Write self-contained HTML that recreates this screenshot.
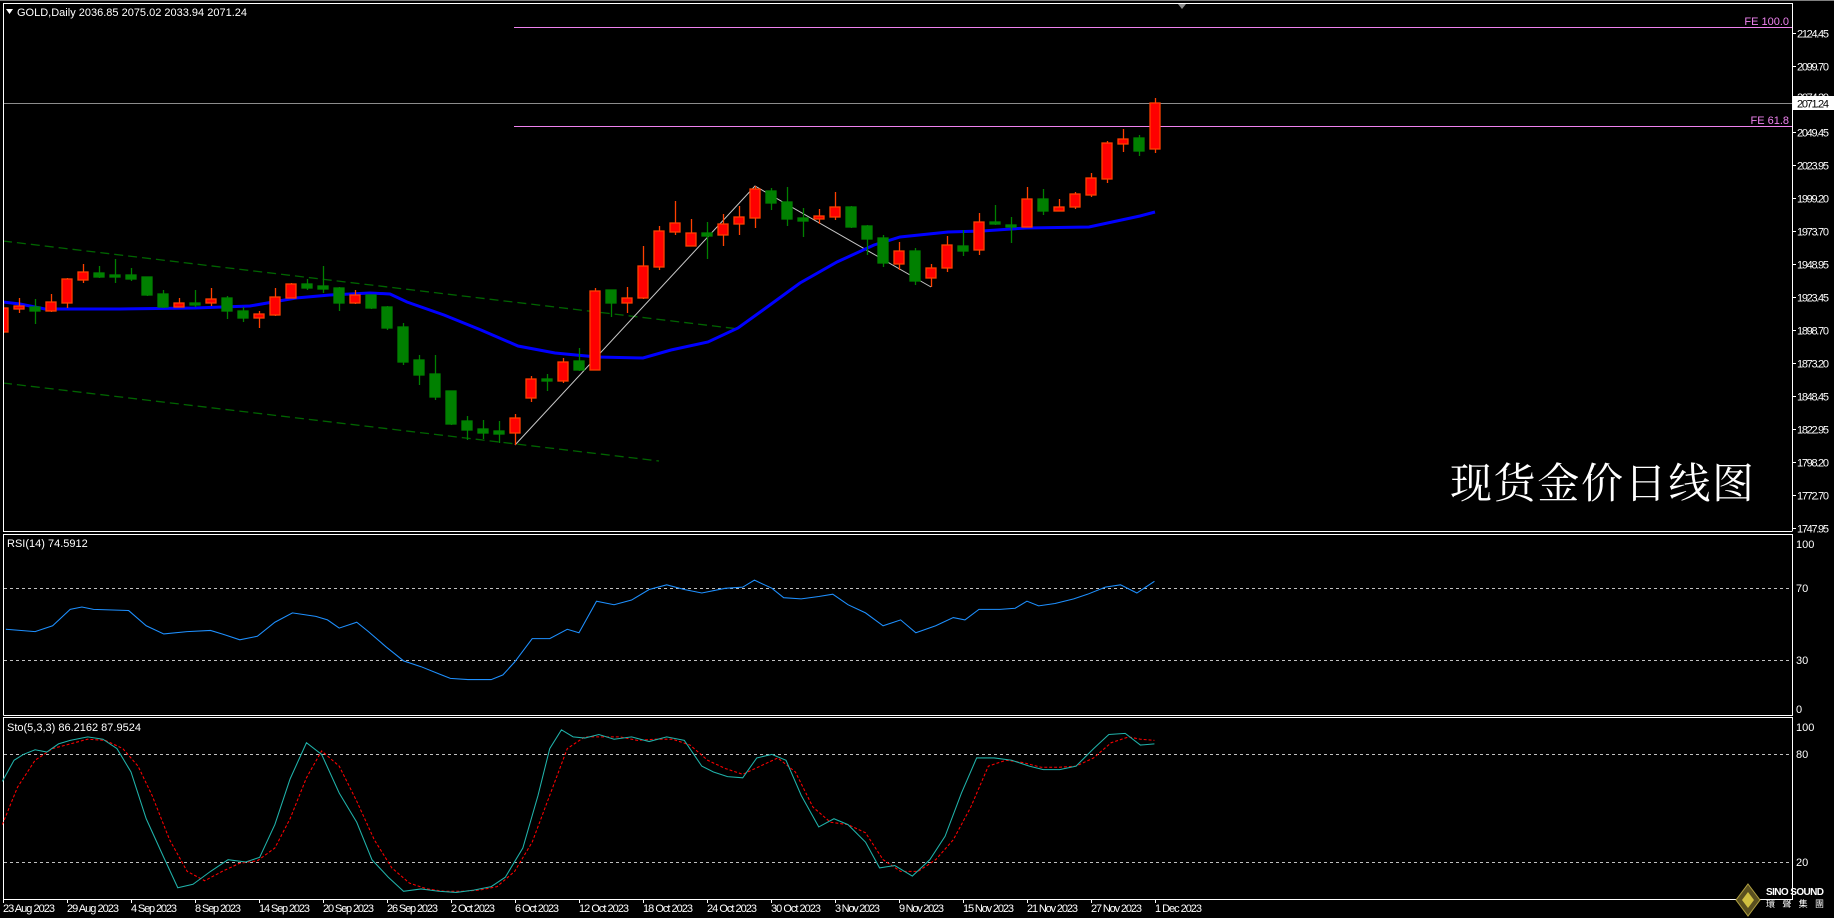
<!DOCTYPE html>
<html><head><meta charset="utf-8"><style>
html,body{margin:0;padding:0;background:#000;}
svg{display:block;}
text{font-family:"Liberation Sans",sans-serif;}
</style></head><body>
<svg width="1834" height="918" viewBox="0 0 1834 918" xmlns="http://www.w3.org/2000/svg">
<rect width="1834" height="918" fill="#000"/>
<line x1="0" y1="0.5" x2="1834" y2="0.5" stroke="#808080"/>
<defs><clipPath id="mc"><rect x="4" y="4" width="1788" height="527"/></clipPath></defs>
<g fill="none" stroke="#fff" stroke-width="1">
<path d="M3.5 531.5 V3.5 H1792.5 V531.5"/>
<line x1="3" y1="531.5" x2="1792" y2="531.5"/>
<path d="M3.5 715.5 V534.5 H1792.5 V715.5 H3.5"/>
<path d="M3.5 899.5 V717.5 H1792.5 V899.5 H3.5"/>
</g>
<g clip-path="url(#mc)">
<g stroke="#006400" stroke-width="1.3" stroke-dasharray="9 5">
<line x1="3" y1="241" x2="739" y2="329"/>
<line x1="3" y1="383" x2="659" y2="461"/>
</g>
<line x1="514" y1="27.5" x2="1792" y2="27.5" stroke="#ee82ee"/>
<line x1="514" y1="126.5" x2="1792" y2="126.5" stroke="#ee82ee"/>
<line x1="3" y1="103.5" x2="1792" y2="103.5" stroke="#8c8c8c"/>
<polyline points="515,445 755,186 931,287" fill="none" stroke="#c8c8c8" stroke-width="1"/>
<polyline points="3,302 20,304 45,309 120,309 195,308 250,306 296,298 330,295 370,293 390,294 407,302 444,315 481,330 518,346 555,353 597,357 643,358 671,350 708,342 738,328 763,310 800,283 837,262 874,245 900,237 948,232 982,231 1026,228 1089,227 1140,216 1155,212" fill="none" stroke="#0000ff" stroke-width="3"/>
<g stroke="#008000" fill="#008000" stroke-width="1.3">
<line x1="35.5" y1="299" x2="35.5" y2="324"/><rect x="30" y="307" width="10" height="4"/>
<line x1="99.5" y1="266" x2="99.5" y2="278"/><rect x="94" y="273" width="10" height="4"/>
<line x1="115.5" y1="259" x2="115.5" y2="283"/><rect x="110" y="275" width="10" height="2"/>
<line x1="131.5" y1="268" x2="131.5" y2="281"/><rect x="126" y="275" width="10" height="4"/>
<line x1="147.5" y1="277" x2="147.5" y2="296"/><rect x="142" y="277" width="10" height="18"/>
<line x1="163.5" y1="290" x2="163.5" y2="308"/><rect x="158" y="294" width="10" height="13"/>
<line x1="195.5" y1="290" x2="195.5" y2="307"/><rect x="190" y="303" width="10" height="2"/>
<line x1="227.5" y1="296" x2="227.5" y2="319"/><rect x="222" y="298" width="10" height="13"/>
<line x1="243.5" y1="307" x2="243.5" y2="322"/><rect x="238" y="311" width="10" height="7"/>
<line x1="307.5" y1="279" x2="307.5" y2="290"/><rect x="302" y="284" width="10" height="4"/>
<line x1="323.5" y1="266" x2="323.5" y2="293"/><rect x="318" y="286" width="10" height="3"/>
<line x1="339.5" y1="287" x2="339.5" y2="311"/><rect x="334" y="288" width="10" height="15"/>
<line x1="371.5" y1="295" x2="371.5" y2="309"/><rect x="366" y="295" width="10" height="13"/>
<line x1="387.5" y1="306" x2="387.5" y2="330"/><rect x="382" y="307" width="10" height="21"/>
<line x1="403.5" y1="323" x2="403.5" y2="365"/><rect x="398" y="327" width="10" height="35"/>
<line x1="419.5" y1="355" x2="419.5" y2="385"/><rect x="414" y="360" width="10" height="15"/>
<line x1="435.5" y1="355" x2="435.5" y2="400"/><rect x="430" y="374" width="10" height="23"/>
<line x1="451.5" y1="391" x2="451.5" y2="425"/><rect x="446" y="391" width="10" height="33"/>
<line x1="467.5" y1="416" x2="467.5" y2="440"/><rect x="462" y="421" width="10" height="9"/>
<line x1="483.5" y1="420" x2="483.5" y2="439"/><rect x="478" y="429" width="10" height="4"/>
<line x1="499.5" y1="421" x2="499.5" y2="443"/><rect x="494" y="431" width="10" height="3"/>
<line x1="547.5" y1="374" x2="547.5" y2="391"/><rect x="542" y="379" width="10" height="2"/>
<line x1="579.5" y1="348" x2="579.5" y2="371"/><rect x="574" y="361" width="10" height="9"/>
<line x1="611.5" y1="290" x2="611.5" y2="317"/><rect x="606" y="290" width="10" height="13"/>
<line x1="707.5" y1="222" x2="707.5" y2="259"/><rect x="702" y="233" width="10" height="3"/>
<line x1="771.5" y1="188" x2="771.5" y2="210"/><rect x="766" y="191" width="10" height="12"/>
<line x1="787.5" y1="187" x2="787.5" y2="226"/><rect x="782" y="202" width="10" height="17"/>
<line x1="803.5" y1="208" x2="803.5" y2="237"/><rect x="798" y="218" width="10" height="3"/>
<line x1="851.5" y1="206" x2="851.5" y2="228"/><rect x="846" y="207" width="10" height="20"/>
<line x1="867.5" y1="225" x2="867.5" y2="255"/><rect x="862" y="226" width="10" height="13"/>
<line x1="883.5" y1="235" x2="883.5" y2="267"/><rect x="878" y="238" width="10" height="25"/>
<line x1="915.5" y1="248" x2="915.5" y2="285"/><rect x="910" y="251" width="10" height="30"/>
<line x1="963.5" y1="230" x2="963.5" y2="256"/><rect x="958" y="246" width="10" height="5"/>
<line x1="995.5" y1="205" x2="995.5" y2="225"/><rect x="990" y="222" width="10" height="2"/>
<line x1="1011.5" y1="217" x2="1011.5" y2="243"/><rect x="1006" y="225" width="10" height="2"/>
<line x1="1043.5" y1="189" x2="1043.5" y2="215"/><rect x="1038" y="199" width="10" height="12"/>
<line x1="1139.5" y1="135" x2="1139.5" y2="156"/><rect x="1134" y="138" width="10" height="13"/>
</g>
<g stroke="#ff4000" fill="#ff0000" stroke-width="1.3">
<line x1="3.5" y1="302" x2="3.5" y2="333"/><rect x="-2" y="308" width="10" height="24"/>
<line x1="19.5" y1="298" x2="19.5" y2="313"/><rect x="14" y="306" width="10" height="3"/>
<line x1="51.5" y1="294" x2="51.5" y2="312"/><rect x="46" y="302" width="10" height="9"/>
<line x1="67.5" y1="278" x2="67.5" y2="308"/><rect x="62" y="279" width="10" height="24"/>
<line x1="83.5" y1="264" x2="83.5" y2="283"/><rect x="78" y="272" width="10" height="8"/>
<line x1="179.5" y1="298" x2="179.5" y2="307"/><rect x="174" y="303" width="10" height="4"/>
<line x1="211.5" y1="288" x2="211.5" y2="306"/><rect x="206" y="299" width="10" height="4"/>
<line x1="259.5" y1="311" x2="259.5" y2="328"/><rect x="254" y="314" width="10" height="4"/>
<line x1="275.5" y1="288" x2="275.5" y2="316"/><rect x="270" y="297" width="10" height="18"/>
<line x1="291.5" y1="283" x2="291.5" y2="298"/><rect x="286" y="284" width="10" height="14"/>
<line x1="355.5" y1="290" x2="355.5" y2="304"/><rect x="350" y="295" width="10" height="8"/>
<line x1="515.5" y1="414" x2="515.5" y2="445"/><rect x="510" y="418" width="10" height="15"/>
<line x1="531.5" y1="376" x2="531.5" y2="402"/><rect x="526" y="379" width="10" height="19"/>
<line x1="563.5" y1="358" x2="563.5" y2="383"/><rect x="558" y="362" width="10" height="19"/>
<line x1="595.5" y1="288" x2="595.5" y2="370"/><rect x="590" y="291" width="10" height="79"/>
<line x1="627.5" y1="287" x2="627.5" y2="313"/><rect x="622" y="298" width="10" height="5"/>
<line x1="643.5" y1="246" x2="643.5" y2="299"/><rect x="638" y="266" width="10" height="32"/>
<line x1="659.5" y1="226" x2="659.5" y2="270"/><rect x="654" y="231" width="10" height="36"/>
<line x1="675.5" y1="201" x2="675.5" y2="235"/><rect x="670" y="223" width="10" height="9"/>
<line x1="691.5" y1="219" x2="691.5" y2="246"/><rect x="686" y="233" width="10" height="13"/>
<line x1="723.5" y1="214" x2="723.5" y2="246"/><rect x="718" y="224" width="10" height="11"/>
<line x1="739.5" y1="206" x2="739.5" y2="235"/><rect x="734" y="217" width="10" height="7"/>
<line x1="755.5" y1="186" x2="755.5" y2="228"/><rect x="750" y="189" width="10" height="29"/>
<line x1="819.5" y1="209" x2="819.5" y2="224"/><rect x="814" y="216" width="10" height="3"/>
<line x1="835.5" y1="192" x2="835.5" y2="220"/><rect x="830" y="207" width="10" height="10"/>
<line x1="899.5" y1="242" x2="899.5" y2="270"/><rect x="894" y="251" width="10" height="13"/>
<line x1="931.5" y1="264" x2="931.5" y2="287"/><rect x="926" y="268" width="10" height="10"/>
<line x1="947.5" y1="236" x2="947.5" y2="272"/><rect x="942" y="245" width="10" height="23"/>
<line x1="979.5" y1="213" x2="979.5" y2="255"/><rect x="974" y="222" width="10" height="28"/>
<line x1="1027.5" y1="187" x2="1027.5" y2="227"/><rect x="1022" y="199" width="10" height="28"/>
<line x1="1059.5" y1="199" x2="1059.5" y2="211"/><rect x="1054" y="207" width="10" height="4"/>
<line x1="1075.5" y1="192" x2="1075.5" y2="209"/><rect x="1070" y="194" width="10" height="13"/>
<line x1="1091.5" y1="173" x2="1091.5" y2="197"/><rect x="1086" y="178" width="10" height="17"/>
<line x1="1107.5" y1="141" x2="1107.5" y2="183"/><rect x="1102" y="143" width="10" height="36"/>
<line x1="1123.5" y1="129" x2="1123.5" y2="152"/><rect x="1118" y="139" width="10" height="5"/>
<line x1="1155.5" y1="98" x2="1155.5" y2="153"/><rect x="1150" y="103" width="10" height="46"/>
</g>
</g>
<polygon points="1178,4 1186,4 1182,9" fill="#8c8c8c"/>
<polygon points="6,9 13,9 9.5,14" fill="#fff"/>
<text x="17" y="16" font-size="11" fill="#fff" textLength="230" lengthAdjust="spacingAndGlyphs">GOLD,Daily  2036.85 2075.02 2033.94 2071.24</text>
<text x="1789" y="25" font-size="11" fill="#ee82ee" text-anchor="end">FE 100.0</text>
<text x="1789" y="124" font-size="11" fill="#ee82ee" text-anchor="end">FE 61.8</text>
<text x="1450" y="498" fill="#fff" textLength="304" style="font-family:'Noto Serif CJK SC','Liberation Serif',serif;font-size:42px;">现货金价日线图</text>
<g font-size="11" fill="#fff">
<g stroke="#fff"><line x1="1792" y1="33.5" x2="1796" y2="33.5"/><line x1="1792" y1="66.5" x2="1796" y2="66.5"/><line x1="1792" y1="132.5" x2="1796" y2="132.5"/><line x1="1792" y1="165.5" x2="1796" y2="165.5"/><line x1="1792" y1="198.5" x2="1796" y2="198.5"/><line x1="1792" y1="231.5" x2="1796" y2="231.5"/><line x1="1792" y1="264.5" x2="1796" y2="264.5"/><line x1="1792" y1="297.5" x2="1796" y2="297.5"/><line x1="1792" y1="330.5" x2="1796" y2="330.5"/><line x1="1792" y1="363.5" x2="1796" y2="363.5"/><line x1="1792" y1="396.5" x2="1796" y2="396.5"/><line x1="1792" y1="429.5" x2="1796" y2="429.5"/><line x1="1792" y1="462.5" x2="1796" y2="462.5"/><line x1="1792" y1="495.5" x2="1796" y2="495.5"/><line x1="1792" y1="528.5" x2="1796" y2="528.5"/></g>
<text x="1797" y="37.5" textLength="32">2124.45</text>
<text x="1797" y="70.5" textLength="32">2099.70</text>
<text x="1797" y="101" textLength="32">2074.20</text>
<text x="1797" y="136.5" textLength="32">2049.45</text>
<text x="1797" y="169.5" textLength="32">2023.95</text>
<text x="1797" y="202.5" textLength="32">1999.20</text>
<text x="1797" y="235.5" textLength="32">1973.70</text>
<text x="1797" y="268.5" textLength="32">1948.95</text>
<text x="1797" y="301.5" textLength="32">1923.45</text>
<text x="1797" y="334.5" textLength="32">1898.70</text>
<text x="1797" y="367.5" textLength="32">1873.20</text>
<text x="1797" y="400.5" textLength="32">1848.45</text>
<text x="1797" y="433.5" textLength="32">1822.95</text>
<text x="1797" y="466.5" textLength="32">1798.20</text>
<text x="1797" y="499.5" textLength="32">1772.70</text>
<text x="1797" y="532.5" textLength="32">1747.95</text>
<rect x="1793" y="96" width="41" height="14" fill="#fff"/>
<text x="1797" y="107.5" textLength="32" fill="#000">2071.24</text>
<text x="1796" y="548">100</text><text x="1796" y="592">70</text><text x="1796" y="664">30</text><text x="1796" y="713">0</text>
<text x="1796" y="731">100</text><text x="1796" y="758">80</text><text x="1796" y="866">20</text>
</g>
<g stroke="#c0c0c0" stroke-dasharray="3 3">
<line x1="4" y1="588.5" x2="1792" y2="588.5"/><line x1="4" y1="660.5" x2="1792" y2="660.5"/>
<line x1="4" y1="754.5" x2="1792" y2="754.5"/><line x1="4" y1="862.5" x2="1792" y2="862.5"/>
</g>
<text x="7" y="547" font-size="11" fill="#fff">RSI(14) 74.5912</text>
<text x="7" y="731" font-size="11" fill="#fff">Sto(5,3,3) 86.2162 87.9524</text>
<g transform="scale(1.16964)" fill="none">
<polyline stroke="#1e90ff" stroke-width="0.9" points="5,538 30,540 45,535 60,521 70,519 80,521 110,522 125,535 140,542 160,540 180,539 190,542 205,547 220,544 235,532 250,524 270,527 280,530 290,537 305,532 315,540 330,553 345,565 360,570 375,576 385,580 400,581 420,581 430,577 440,566 455,546 470,546 485,538 495,541 510,514 525,517 540,513 555,504 570,500 585,504 600,507 620,503 635,502 645,496 660,503 670,511 685,512 700,510 712,508 725,517 740,524 755,535 770,530 783,541 800,535 815,528 825,530 837,521 855,521 868,520 878,514 888,518 902,516 918,512 930,508 945,502 958,500 972,507 987,497"/>
<polyline stroke="#ff0000" stroke-width="0.9" stroke-dasharray="2.5 1.7" points="2,705 15,673 30,650 45,640 60,636 75,632 90,633 105,640 118,655 130,680 145,718 160,745 175,753 190,745 205,738 220,736 235,725 248,700 262,665 275,642 290,655 305,685 320,718 335,742 350,755 365,760 380,762 395,762 410,761 425,758 440,745 455,720 470,680 485,640 500,630 515,630 530,630 545,633 560,632 575,632 590,637 605,650 620,657 635,662 650,655 665,648 680,660 695,690 710,703 725,705 740,712 755,735 770,745 785,745 800,735 815,718 830,690 845,655 860,650 875,652 890,656 905,656 920,655 935,648 950,635 965,630 975,632 987,633"/>
<polyline stroke="#20b2aa" stroke-width="0.9" points="2,668 12,650 20,645 30,641 40,643 50,636 60,633 75,630 88,632 100,640 112,660 125,700 140,733 152,759 165,756 180,745 195,735 210,737 222,733 235,705 248,666 262,635 275,645 290,678 305,703 318,735 332,750 345,762 360,760 375,762 390,763 405,761 420,758 432,750 447,725 460,680 470,640 480,624 490,630 500,631 512,628 525,632 540,630 555,634 570,630 585,633 600,655 610,660 622,664 635,665 647,648 660,645 672,650 685,680 700,707 713,700 725,705 740,720 752,742 765,740 780,749 795,735 808,715 822,678 835,648 850,648 865,650 880,655 892,658 906,658 920,655 935,640 948,628 962,627 975,637 987,636"/>
</g>
<g stroke="#fff">
<line x1="3.5" y1="899" x2="3.5" y2="903"/><line x1="67.5" y1="899" x2="67.5" y2="903"/><line x1="131.5" y1="899" x2="131.5" y2="903"/><line x1="195.5" y1="899" x2="195.5" y2="903"/><line x1="259.5" y1="899" x2="259.5" y2="903"/><line x1="323.5" y1="899" x2="323.5" y2="903"/><line x1="387.5" y1="899" x2="387.5" y2="903"/><line x1="451.5" y1="899" x2="451.5" y2="903"/><line x1="515.5" y1="899" x2="515.5" y2="903"/><line x1="579.5" y1="899" x2="579.5" y2="903"/><line x1="643.5" y1="899" x2="643.5" y2="903"/><line x1="707.5" y1="899" x2="707.5" y2="903"/><line x1="771.5" y1="899" x2="771.5" y2="903"/><line x1="835.5" y1="899" x2="835.5" y2="903"/><line x1="899.5" y1="899" x2="899.5" y2="903"/><line x1="963.5" y1="899" x2="963.5" y2="903"/><line x1="1027.5" y1="899" x2="1027.5" y2="903"/><line x1="1091.5" y1="899" x2="1091.5" y2="903"/><line x1="1155.5" y1="899" x2="1155.5" y2="903"/>
</g>
<g font-size="11" fill="#fff">
<text x="3" y="912" textLength="52">23 Aug 2023</text>
<text x="67" y="912" textLength="52">29 Aug 2023</text>
<text x="131" y="912" textLength="46">4 Sep 2023</text>
<text x="195" y="912" textLength="46">8 Sep 2023</text>
<text x="259" y="912" textLength="51">14 Sep 2023</text>
<text x="323" y="912" textLength="51">20 Sep 2023</text>
<text x="387" y="912" textLength="51">26 Sep 2023</text>
<text x="451" y="912" textLength="44">2 Oct 2023</text>
<text x="515" y="912" textLength="44">6 Oct 2023</text>
<text x="579" y="912" textLength="50">12 Oct 2023</text>
<text x="643" y="912" textLength="50">18 Oct 2023</text>
<text x="707" y="912" textLength="50">24 Oct 2023</text>
<text x="771" y="912" textLength="50">30 Oct 2023</text>
<text x="835" y="912" textLength="45">3 Nov 2023</text>
<text x="899" y="912" textLength="45">9 Nov 2023</text>
<text x="963" y="912" textLength="51">15 Nov 2023</text>
<text x="1027" y="912" textLength="51">21 Nov 2023</text>
<text x="1091" y="912" textLength="51">27 Nov 2023</text>
<text x="1155" y="912" textLength="47">1 Dec 2023</text>
</g>
<polygon points="1748,884 1760,900 1748,916 1736,900" fill="#5a5020" stroke="#b0a040"/>
<polygon points="1748,892 1754,900 1748,908 1742,900" fill="#d0c040"/>
<text x="1766" y="895" font-size="10" font-weight="bold" fill="#fff" textLength="58">SINO SOUND</text>
<text x="1766" y="907" fill="#fff" textLength="58" style="font-family:'Noto Sans CJK SC',sans-serif;font-size:9px;">環 聲 集 團</text>
</svg>
</body></html>
